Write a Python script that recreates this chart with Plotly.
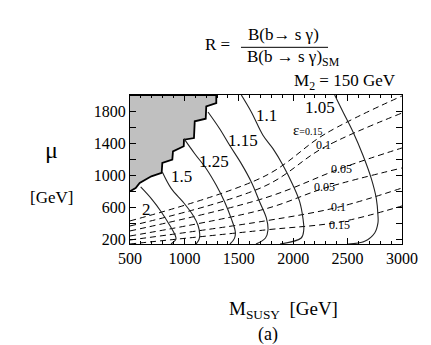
import plotly.graph_objects as go

# R = B(b->s gamma)/B(b->s gamma)_SM contours, M2 = 150 GeV
r_levels = ["2", "1.5", "1.25", "1.15", "1.1", "1.05"]
r_x = [
    [598, 696, 788, 865, 915, 922, 877],
    [797, 880, 987, 1079, 1125, 1141, 1135, 1107],
    [996, 1095, 1201, 1293, 1370, 1431, 1468, 1460, 1419],
    [1217, 1324, 1416, 1523, 1615, 1692, 1753, 1768, 1745, 1658],
    [1523, 1615, 1722, 1814, 1906, 1998, 2060, 2090, 2097, 2074, 1879],
    [2381, 2458, 2550, 2641, 2718, 2764, 2779, 2779, 2749, 2657, 2504],
]
r_y = [
    [852, 706, 540, 374, 249, 200, 140],
    [1039, 831, 665, 499, 374, 260, 200, 140],
    [1455, 1267, 1080, 873, 665, 456, 290, 210, 140],
    [1788, 1579, 1372, 1143, 914, 665, 465, 315, 215, 140],
    [2000, 1788, 1497, 1330, 1123, 873, 665, 456, 315, 215, 140],
    [2000, 1788, 1538, 1247, 955, 706, 499, 403, 278, 174, 140],
]
r_label_x = [656, 969, 1272, 1539, 1750, 2246]
r_label_y = [565, 977, 1164, 1438, 1738, 1850]

# epsilon contours (dashed), upper branch 0.15,0.1,0.05 then lower 0.05,0.1,0.15
eps_labels = ["ε<span style='font-size:10px'>=0.15</span>", "0.1", "0.05", "0.05", "0.1", "0.15"]
eps_x = [
    [500, 1741, 2292, 3000],
    [500, 1741, 2274, 3000],
    [500, 1741, 2448, 3000],
    [500, 1741, 2292, 3000],
    [500, 1741, 2421, 3000],
    [500, 1741, 2430, 3000],
]
eps_y = [
    [428, 989, 1513, 1988],
    [365, 864, 1339, 1775],
    [303, 715, 1089, 1339],
    [240, 577, 839, 1089],
    [190, 428, 602, 839],
    [140, 315, 415, 615],
]
eps_label_x = [2127, 2274, 2448, 2290, 2418, 2427]
eps_label_y = [1563, 1376, 1080, 852, 602, 374]

# excluded region (upper left), staircase boundary
excl_x = [500, 1293, 1293, 1201, 1196, 1095, 1088, 996, 994, 895, 889, 797, 791, 696, 589, 552, 500]
excl_y = [2000, 2000, 1900, 1859, 1704, 1672, 1463, 1442, 1360, 1297, 1193, 1151, 1027, 985, 902, 839, 798]

serif = "Liberation Serif"
fig = go.Figure()

fig.add_trace(go.Scatter(x=excl_x, y=excl_y, mode="lines", fill="toself",
                         fillcolor="#c0c0c0", line=dict(color="black", width=1.8),
                         showlegend=False, hoverinfo="skip"))

for xs, ys in zip(eps_x, eps_y):
    fig.add_trace(go.Scatter(x=xs, y=ys, mode="lines", line_shape="spline",
                             line=dict(color="black", width=1, dash="6px,4px"),
                             showlegend=False, hoverinfo="skip"))

for xs, ys in zip(r_x, r_y):
    fig.add_trace(go.Scatter(x=xs, y=ys, mode="lines", line_shape="spline",
                             line=dict(color="#222", width=1.1),
                             showlegend=False, hoverinfo="skip"))

for t, x, y in zip(r_levels, r_label_x, r_label_y):
    fig.add_annotation(x=x, y=y, text=t, showarrow=False,
                       font=dict(family=serif, size=17, color="black"))
for t, x, y in zip(eps_labels, eps_label_x, eps_label_y):
    fig.add_annotation(x=x, y=y, text=t, showarrow=False,
                       font=dict(family=serif, size=12 if t[0] != "ε" else 15, color="black"))

# texts outside the frame (paper coords)
outside = [
    ("R =", 0.268, 1.342, 17, "left"),
    ("B(b→ s γ)", 0.5625, 1.403, 17, "center"),
    ("B(b → s γ)<sub>SM</sub>", 0.6, 1.248, 17, "center"),
    ("M<sub>2</sub> = 150 GeV", 0.79, 1.09, 17, "center"),
    ("μ", -0.29, 0.631, 24, "center"),
    ("[GeV]", -0.29, 0.309, 17, "center"),
    ("M<sub>SUSY</sub>  [GeV]", 0.566, -0.44, 19, "center"),
    ("(a)", 0.507, -0.61, 18, "center"),
]
for t, x, y, s, xa in outside:
    fig.add_annotation(x=x, y=y, xref="paper", yref="paper", text=t, showarrow=False,
                       xanchor=xa, yanchor="middle",
                       font=dict(family=serif, size=s, color="black"))

fig.add_shape(type="line", xref="paper", yref="paper", x0=0.408, x1=0.728, y0=1.32, y1=1.32,
              line=dict(color="black", width=1))

x_ticks = [500, 1000, 1500, 2000, 2500, 3000]
y_ticks = [200, 400, 600, 800, 1000, 1200, 1400, 1600, 1800]
y_text = [str(v) if v % 400 == 200 else "" for v in y_ticks]

fig.update_xaxes(range=[500, 3000], tickvals=x_ticks, ticks="inside", ticklen=6,
                 minor=dict(dtick=100, ticks="inside", ticklen=3, tickcolor="black"),
                 mirror="ticks", showline=True, linecolor="black", linewidth=1,
                 showgrid=False, zeroline=False, tickcolor="black",
                 tickfont=dict(family=serif, size=16, color="black"))
fig.update_yaxes(range=[140, 2000], tickvals=y_ticks, ticktext=y_text, ticks="inside", ticklen=6,
                 mirror="ticks", showline=True, linecolor="black", linewidth=1,
                 showgrid=False, zeroline=False, tickcolor="black",
                 tickfont=dict(family=serif, size=16, color="black"))

fig.update_layout(width=431, height=345, margin=dict(l=122, r=37, t=87, b=109),
                  plot_bgcolor="white", paper_bgcolor="white", showlegend=False)

fig.write_html("out.html")
